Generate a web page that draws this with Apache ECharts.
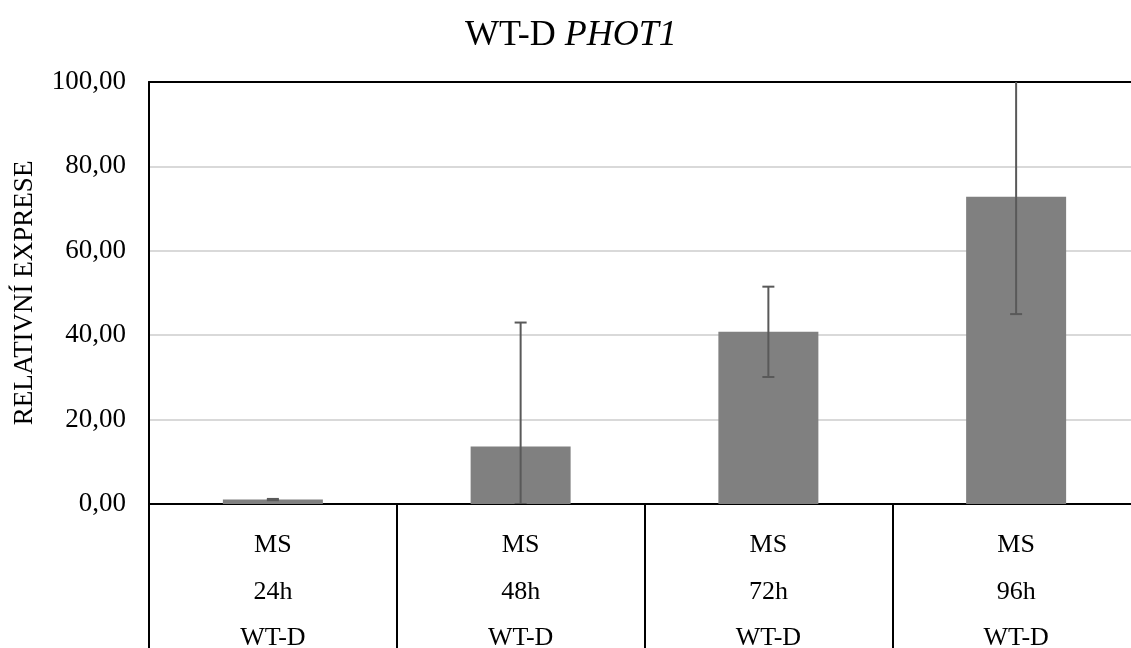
<!DOCTYPE html>
<html>
<head>
<meta charset="utf-8">
<script src="https://cdn.jsdelivr.net/npm/echarts@6/dist/echarts.min.js"></script>
<style>html,body{margin:0;padding:0;background:#fff}#c{width:1131px;height:648px}</style>
</head>
<body>
<div id="c"></div>
<script>
const categories = ['MS\n24h\nWT-D', 'MS\n48h\nWT-D', 'MS\n72h\nWT-D', 'MS\n96h\nWT-D'];
const values = [1.05, 13.6, 40.8, 72.8];
const errors = [0.15, 29.4, 10.7, 27.8];
const yTicks = [0, 20, 40, 60, 80, 100];

const FONT = '"Liberation Serif", "Times New Roman", serif';
const chart = echarts.init(document.getElementById('c'));

const errData = values.map((v, i) => [i, Math.max(0, v - errors[i]), v + errors[i]]);

chart.setOption({
  animation: false,
  title: {
    text: '{a|WT-D }{b|PHOT1}',
    left: 460,
    top: 13,
    textStyle: {
      rich: {
        a: { fontFamily: FONT, fontSize: 36, color: '#000', fontWeight: 'normal' },
        b: { fontFamily: FONT, fontSize: 36, color: '#000', fontStyle: 'italic', fontWeight: 'normal' }
      }
    }
  },
  grid: { left: 149, top: 82, width: 991, height: 422, outerBoundsMode: 'none', containLabel: false },
  xAxis: [{
    type: 'category',
    data: categories,
    axisLine: { show: true, lineStyle: { color: '#000', width: 2 } },
    axisTick: { show: true, interval: 0, length: 146, lineStyle: { color: '#000', width: 2 } },
    axisLabel: { interval: 0, margin: 18, fontFamily: FONT, fontSize: 26, color: '#000', lineHeight: 46.5 },
    splitLine: { show: false }
  }, {
    type: 'category',
    position: 'top',
    data: categories,
    axisLine: { show: true, lineStyle: { color: '#000', width: 2 } },
    axisTick: { show: false },
    axisLabel: { show: false }
  }],
  yAxis: {
    type: 'value',
    min: 0, max: 100, interval: 20,
    data: yTicks,
    name: 'RELATIVNÍ EXPRESE',
    nameLocation: 'middle',
    nameGap: 111,
    nameRotate: 90,
    nameTextStyle: { fontFamily: FONT, fontSize: 27, color: '#000' },
    axisLine: { show: true, lineStyle: { color: '#000', width: 2 } },
    axisTick: { show: false },
    axisLabel: {
      margin: 23, fontFamily: FONT, fontSize: 27, color: '#000',
      formatter: v => v.toFixed(2).replace('.', ',')
    },
    splitLine: { show: true, lineStyle: { color: '#d9d9d9', width: 2 } }
  },
  series: [{
    type: 'bar',
    data: values,
    barWidth: 100,
    itemStyle: { color: '#808080' },
    z: 2
  }, {
    type: 'custom',
    clip: true,
    z: 3,
    data: errData,
    renderItem: function (params, api) {
      const x = api.coord([api.value(0), 0])[0];
      const lo = api.coord([api.value(0), api.value(1)])[1];
      const hi = api.coord([api.value(0), api.value(2)])[1];
      const hw = 6;
      const style = { stroke: '#595959', lineWidth: 2 };
      return {
        type: 'group',
        children: [
          { type: 'line', shape: { x1: x, y1: lo, x2: x, y2: hi }, style: style },
          { type: 'line', shape: { x1: x - hw, y1: hi, x2: x + hw, y2: hi }, style: style },
          { type: 'line', shape: { x1: x - hw, y1: lo, x2: x + hw, y2: lo }, style: style }
        ]
      };
    }
  }]
});
</script>
</body>
</html>
